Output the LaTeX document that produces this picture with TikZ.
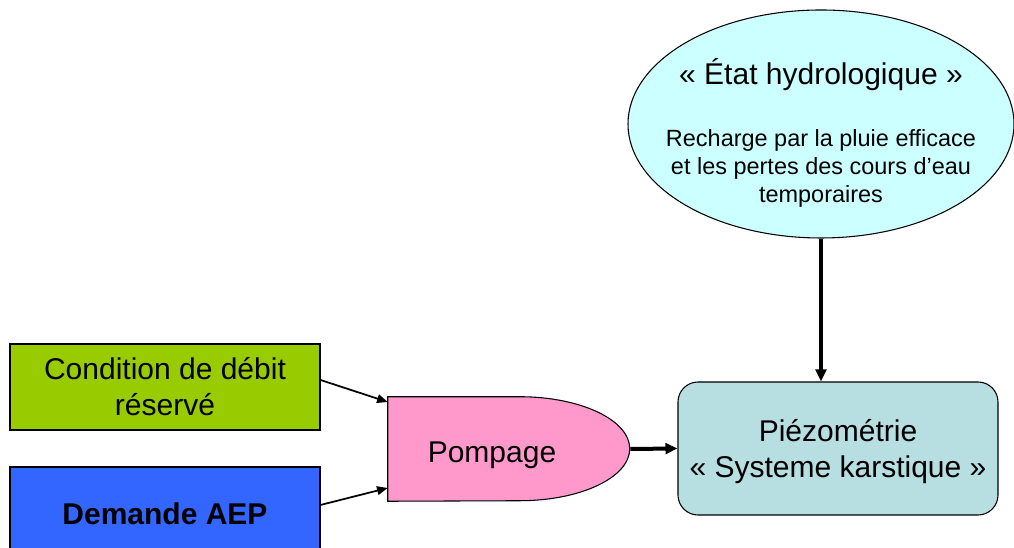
\documentclass[tikz,border=0pt]{standalone}
\usepackage{fontspec}
\setmainfont{Liberation Sans}
\usetikzlibrary{arrows.meta,shapes.geometric}
\definecolor{vertcond}{HTML}{99CC00}
\definecolor{bleuaep}{HTML}{3366FF}
\definecolor{rosepomp}{HTML}{FF99CC}
\definecolor{bleupiezo}{HTML}{B7DEE1}
\definecolor{cielhydro}{HTML}{CCFFFF}
\newcommand{\grand}{\fontsize{22.5}{27}\selectfont}
\newcommand{\petit}{\fontsize{17.6}{21}\selectfont}
\begin{document}
\begin{tikzpicture}[x=0.75pt,y=0.75pt,
  boite/.style={draw,line width=0.8pt,minimum width=232.5pt,align=center,font=\grand},
  fleche/.style={-{Triangle[length=8pt,width=6.5pt]},line width=1.3pt},
  grosfleche/.style={-{Triangle[length=9pt,width=8pt]},line width=3pt}]
\useasboundingbox (0,0) rectangle (1014,548);
\node[boite,fill=vertcond,minimum height=64.5pt] (cond) at (165,161) {Condition de débit\\réservé};
\node[boite,fill=bleuaep,minimum height=69.75pt,font=\grand\bfseries] (aep) at (165,34.5) {Demande AEP};
\node[minimum width=156pt,minimum height=78pt,inner sep=0,font=\grand] (pomp) at (492,99) {};
\draw[line width=0.8pt,fill=rosepomp] (pomp.south west) -- (pomp.north west) -- ++(132,0) arc (90:-90:82.5pt and 39pt) -- cycle;
\node[font=\grand] at ([yshift=-4.5pt]pomp.center) {Pompage};
\coordinate (pomptip) at ([xshift=25.5pt]pomp.east);
\node[boite,fill=bleupiezo,minimum width=240pt,minimum height=99.75pt,rounded corners=15pt,text depth=-6pt] (piezo) at (838,99.5) {Piézométrie\\« Systeme karstique »};
\node[ellipse,draw,line width=0.8pt,fill=cielhydro,minimum width=289.5pt,minimum height=171pt,inner sep=0] (etat) at (821,424) {};
\node[align=center,font=\petit] at ([yshift=-6.75pt]etat.center) {{\grand « État hydrologique »}\\[25.5pt]Recharge par la pluie efficace\\et les pertes des cours d’eau\\temporaires};
% connexions
\draw[fleche] ([yshift=5.25pt]cond.east) -- ([yshift=35.25pt]pomp.west);
\draw[fleche] ([yshift=6.4pt]aep.east) -- ([yshift=-29.25pt]pomp.west);
\draw[grosfleche] (pomptip) -- (piezo.west);
\draw[grosfleche] (etat.south) -- (etat.south |- piezo.north);
\end{tikzpicture}
\end{document}
